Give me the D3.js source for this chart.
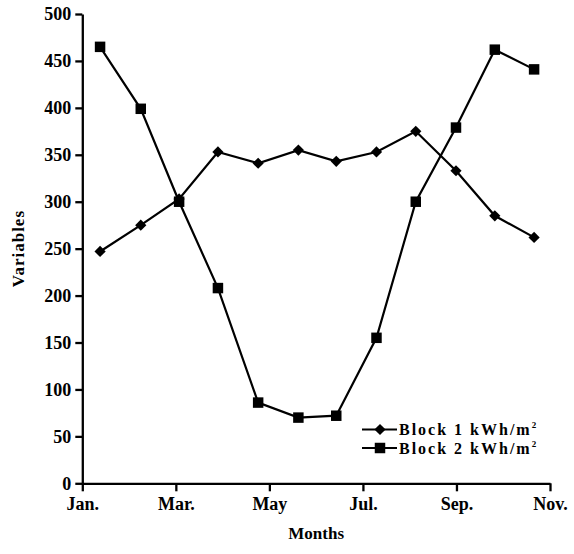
<!DOCTYPE html>
<html><head><meta charset="utf-8">
<script src="https://cdn.jsdelivr.net/npm/d3@7"></script>
<style>
html,body{margin:0;padding:0;background:#fff;}
text{font-family:"Liberation Serif","Times New Roman",serif;fill:#000;font-weight:bold;}
</style></head>
<body><svg id="chart" width="574" height="554"></svg>
<script>
const monthTicks = [0, 2, 4, 6, 8, 10];
const monthLabels = ["Jan.", "Mar.", "May", "Jul.", "Sep.", "Nov."];
const yTicks = [0, 50, 100, 150, 200, 250, 300, 350, 400, 450, 500];
const xPositions = [0.38, 1.25, 2.07, 2.9, 3.76, 4.62, 5.43, 6.29, 7.13, 7.99, 8.82, 9.66];
const block1 = [247, 275, 303, 353, 341, 355, 343, 353, 375, 333, 285, 262];
const block2 = [465, 399, 300, 208, 86, 70, 72, 155, 300, 379, 462, 441];
const seriesNames = ["Block 1 kWh/m", "Block 2 kWh/m"];

const svg = d3.select("#chart");
const x = d3.scaleLinear().domain([0, 10]).range([82.3, 550]);
const y = d3.scaleLinear().domain([0, 500]).range([483.3, 14]);

const gx = svg.append("g").attr("transform", `translate(0,${y(0)})`)
  .call(d3.axisBottom(x).tickValues(monthTicks).tickFormat((d, i) => monthLabels[i]).tickSize(8).tickSizeOuter(0).tickPadding(6));
const gy = svg.append("g").attr("transform", `translate(${x(0)},0)`)
  .call(d3.axisLeft(y).tickValues(yTicks).tickSize(7).tickSizeOuter(0).tickPadding(4));
[gx, gy].forEach(g => {
  g.select(".domain").attr("stroke", "#000").attr("stroke-width", 2.3);
  g.selectAll(".tick line").attr("stroke", "#000").attr("stroke-width", 2.3);
  g.selectAll(".tick text").attr("font-family", "Liberation Serif").attr("font-weight", "bold")
    .attr("font-size", 18).attr("fill", "#000");
});

svg.append("text").attr("x", x(5)).attr("y", 539).attr("text-anchor", "middle")
  .attr("font-size", 17).text("Months");
svg.append("text").attr("transform", `translate(24,${y(250)}) rotate(-90)`).attr("text-anchor", "middle")
  .attr("font-size", 17).attr("letter-spacing", 1).text("Variables");

const line = d3.line().x(d => x(d[0])).y(d => y(d[1]));
const d1 = xPositions.map((v, i) => [v, block1[i]]);
const d2 = xPositions.map((v, i) => [v, block2[i]]);

const diamond = d3.symbol().type(d3.symbolDiamond2).size(80);
const square = d3.symbol().type(d3.symbolSquare).size(110);

svg.append("path").datum(d1).attr("d", line).attr("fill", "none").attr("stroke", "#000").attr("stroke-width", 2.2);
svg.append("path").datum(d2).attr("d", line).attr("fill", "none").attr("stroke", "#000").attr("stroke-width", 2.2);
svg.selectAll(".m1").data(d1).join("path").attr("class", "m1")
  .attr("transform", d => `translate(${x(d[0])},${y(d[1])})`).attr("d", diamond).attr("fill", "#000");
svg.selectAll(".m2").data(d2).join("path").attr("class", "m2")
  .attr("transform", d => `translate(${x(d[0])},${y(d[1])})`).attr("d", square).attr("fill", "#000");

const legY = [429.5, 448];
const shapes = [diamond, square];
seriesNames.forEach((name, i) => {
  const g = svg.append("g").attr("transform", `translate(0,${legY[i]})`);
  g.append("line").attr("x1", 362).attr("x2", 397).attr("y1", 0).attr("y2", 0).attr("stroke", "#000").attr("stroke-width", 2.2);
  g.append("path").attr("transform", "translate(380,0)").attr("d", shapes[i]).attr("fill", "#000");
  const t = g.append("text").attr("x", 399).attr("y", 5.5).attr("font-size", 16).attr("letter-spacing", 2).text(name);
  t.append("tspan").attr("font-size", 9).attr("dy", -7).attr("letter-spacing", 0).text("2");
});
</script></body></html>
